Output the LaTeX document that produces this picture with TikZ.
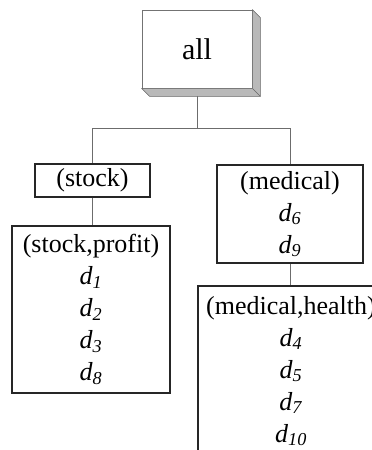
\documentclass[tikz,border=0pt]{standalone}
\usepackage{fontspec}
\setmainfont{Liberation Serif}
\usetikzlibrary{calc,positioning}

% document ids: italic d with an italic index
\newcommand{\docid}[1]{\textit{d}\textsubscript{\textit{#1}}}

\begin{document}
\begin{tikzpicture}[x=1pt,y=-1pt,
		root node/.style={rectangle,draw=gray!90!black,line width=0.8pt,fill=white,
			minimum width=110,minimum height=78,inner sep=0,
			font=\fontsize{30}{34}\selectfont},
		slab/.style={fill=gray!55,draw=gray!80!black,line width=0.6pt,line join=round},
		term node/.style={rectangle,draw=black!85,line width=1.5pt,align=center,inner sep=0,
			font=\fontsize{26}{32}\selectfont},
		link/.style={draw=gray!85!black,line width=0.9pt}]

\clip (0,0) rectangle (372,450);

\node (all) [root node] at (197,49) {all};
\node (stock) [term node,minimum width=115,minimum height=33] at (92.5,180.5) {(stock)};
\node (medical) [term node,minimum width=146,minimum height=98] at (290,214)
	{(medical)\\ \docid{6}\\ \docid{9}};
\node (stockprofit) [term node,minimum width=158,minimum height=167] at (91,309.5)
	{(stock,profit)\\ \docid{1}\\ \docid{2}\\ \docid{3}\\ \docid{8}};
\node (medhealth) [term node,minimum width=186,minimum height=170] at (291,371)
	{(medical,health)\\ \docid{4}\\ \docid{5}\\ \docid{7}\\ \docid{10}};

% tree edges
\coordinate (split) at ($(all.south)+(0,40)$);
\draw[link] (all.south) -- (split);
\draw[link] (split) -| (stock.north);
\draw[link] (split) -| (medical.north);
\draw[link] (stock.south) -- (stock.south |- stockprofit.north);
\draw[link] (medical.south) -- (medical.south |- medhealth.north);

% raised edge of the root box
\filldraw[slab] (all.north east) -- ++(8,8) -- ($(all.south east)+(8,8)$)
	-- ($(all.south west)+(8,8)$) -- (all.south west) -- (all.south east) -- cycle;
\draw[slab,fill=none] (all.south east) -- ++(8,8);

\end{tikzpicture}
\end{document}
